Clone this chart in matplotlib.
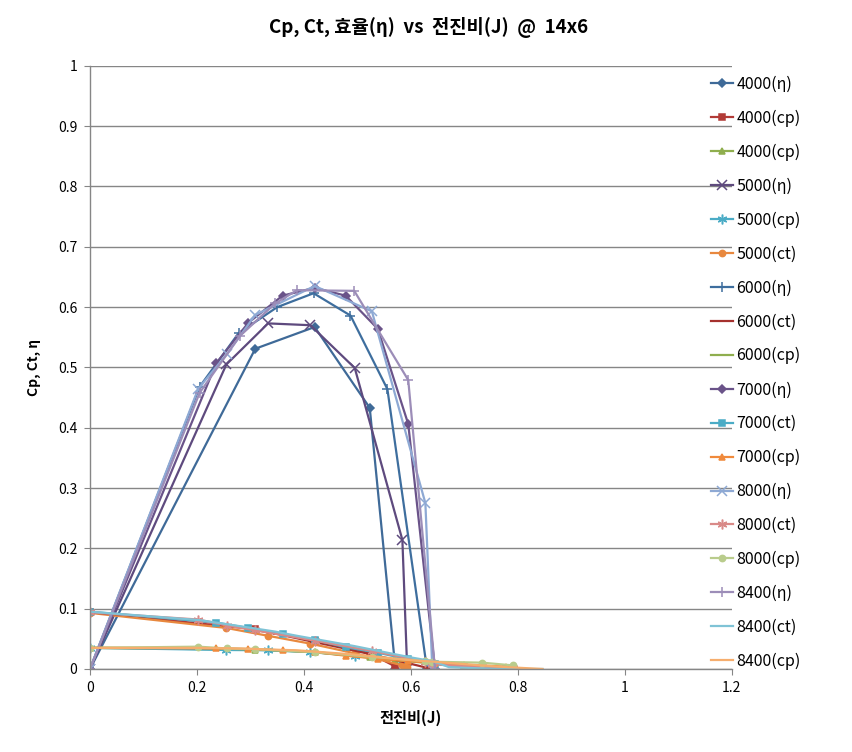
import matplotlib
matplotlib.use("Agg")
import matplotlib.pyplot as plt
from matplotlib.ticker import FuncFormatter, MultipleLocator

plt.rcParams["font.family"] = ["Noto Sans CJK KR", "DejaVu Sans"]

# 전진비 J 와 각 rpm 별 효율(η), ct, cp 값
j_4000 = [0, 0.309, 0.42, 0.523, 0.571]
eta_4000 = [0, 0.531, 0.567, 0.433, 0]
ct_4000 = [0.094, 0.066, 0.047, 0.026, 0.004]
cp_4000 = [0.035, 0.032, 0.028, 0.020, 0.015]

j_5000 = [0, 0.255, 0.333, 0.412, 0.495, 0.584, 0.593]
eta_5000 = [0, 0.505, 0.573, 0.570, 0.499, 0.214, 0]
ct_5000 = [0.093, 0.068, 0.055, 0.042, 0.026, 0.006, 0.003]
cp_5000 = [0.035, 0.0315, 0.031, 0.028, 0.022, 0.014, 0.013]

j_6000 = [0, 0.205, 0.278, 0.35, 0.418, 0.487, 0.556, 0.63]
eta_6000 = [0, 0.468, 0.557, 0.600, 0.623, 0.586, 0.464, 0]
ct_6000 = [0.094, 0.080, 0.070, 0.058, 0.045, 0.032, 0.018, 0.002]
cp_6000 = [0.035, 0.035, 0.033, 0.031, 0.028, 0.022, 0.016, 0.010]

j_7000 = [0, 0.236, 0.296, 0.36, 0.42, 0.478, 0.538, 0.595, 0.645]
eta_7000 = [0, 0.507, 0.574, 0.619, 0.632, 0.619, 0.564, 0.406, 0]
j_7000_low = [0, 0.236, 0.296, 0.36, 0.42, 0.478, 0.538, 0.595, 0.645, 0.70, 0.778]
ct_7000 = [0.095, 0.077, 0.068, 0.058, 0.048, 0.036, 0.027, 0.016, 0.008, 0.003, 0.0]
cp_7000 = [0.035, 0.034, 0.033, 0.031, 0.028, 0.022, 0.017, 0.013, 0.010, 0.007, 0.004]

j_8000 = [0, 0.2025, 0.256, 0.309, 0.42, 0.527, 0.627, 0.64]
eta_8000 = [0, 0.465, 0.522, 0.587, 0.635, 0.593, 0.275, 0]
j_8000_low = [0, 0.2025, 0.256, 0.309, 0.42, 0.527, 0.627, 0.64, 0.733, 0.79]
ct_8000 = [0.094, 0.082, 0.072, 0.064, 0.047, 0.030, 0.012, 0.008, 0.003, 0.001]
cp_8000 = [0.035, 0.037, 0.034, 0.033, 0.028, 0.020, 0.013, 0.012, 0.0105, 0.006]

j_8400 = [0, 0.205, 0.28, 0.346, 0.387, 0.494, 0.595, 0.645]
eta_8400 = [0, 0.458, 0.552, 0.606, 0.628, 0.627, 0.479, 0]
j_8400_low = [0, 0, 0.205, 0.28, 0.346, 0.387, 0.494, 0.595, 0.645, 0.671, 0.73, 0.78, 0.846]
ct_8400 = [0, 0.095, 0.081, 0.071, 0.062, 0.055, 0.038, 0.020, 0.012, 0.003, 0.001, 0.0, 0.0]
cp_8400 = [0, 0.035, 0.035, 0.034, 0.032, 0.031, 0.024, 0.015, 0.012, 0.010, 0.006, 0.003, 0.0]

# (범례 이름, x, y, 색, 마커) - 범례 이름은 원본 그대로
series = [
    ("4000(η)", j_4000, eta_4000, "#3F6A98", "D"),
    ("4000(cp)", j_4000, ct_4000, "#B23B37", "s"),
    ("4000(cp)", j_4000, cp_4000, "#8FAE4E", "^"),
    ("5000(η)", j_5000, eta_5000, "#5E4A7E", "x"),
    ("5000(cp)", j_5000, cp_5000, "#4BACC6", (6, 2, 0)),
    ("5000(ct)", j_5000, ct_5000, "#E8883E", "o"),
    ("6000(η)", j_6000, eta_6000, "#3E6E9E", "+"),
    ("6000(ct)", j_6000, ct_6000, "#A5312E", "_"),
    ("6000(cp)", j_6000, cp_6000, "#8FAE4E", "_"),
    ("7000(η)", j_7000, eta_7000, "#6A5389", "D"),
    ("7000(ct)", j_7000_low, ct_7000, "#4BACC6", "s"),
    ("7000(cp)", j_7000_low, cp_7000, "#F08A3C", "^"),
    ("8000(η)", j_8000, eta_8000, "#8EA9D4", "x"),
    ("8000(ct)", j_8000_low, ct_8000, "#D98A88", (6, 2, 0)),
    ("8000(cp)", j_8000_low, cp_8000, "#B9CC8C", "o"),
    ("8400(η)", j_8400, eta_8400, "#9C8DB8", "+"),
    ("8400(ct)", j_8400_low, ct_8400, "#7FC3D6", None),
    ("8400(cp)", j_8400_low, cp_8400, "#F6AE6E", None),
]

fig = plt.figure(figsize=(8.53, 7.52), dpi=100)
ax = fig.add_axes([0.1055, 0.1104, 0.7525, 0.802])

for label, xs, ys, color, marker in series:
    size = 4.5
    if marker in ("x", "+", (6, 2, 0)):
        size = 7
    if marker == "_":
        size = 6
    ax.plot(xs, ys, color=color, lw=1.6, marker=marker, markersize=size,
            markeredgewidth=1.1, label=label)

ax.set_xlim(0, 1.2)
ax.set_ylim(0, 1)
ax.xaxis.set_major_locator(MultipleLocator(0.2))
ax.yaxis.set_major_locator(MultipleLocator(0.1))
fmt = FuncFormatter(lambda v, pos: f"{v:g}")
ax.xaxis.set_major_formatter(fmt)
ax.yaxis.set_major_formatter(fmt)
ax.tick_params(direction="out", length=4, color="#868686", labelsize=10, pad=5)

ax.grid(axis="y", color="#868686", lw=1)
ax.set_axisbelow(True)
for side in ("top", "right"):
    ax.spines[side].set_visible(False)
for side in ("left", "bottom"):
    ax.spines[side].set_color("#868686")
    ax.spines[side].set_linewidth(1)

ax.set_xlabel("전진비(J)", fontsize=11, fontweight="bold", labelpad=10)
ax.set_ylabel("Cp, Ct, η", fontsize=10, fontweight="bold", labelpad=12)
fig.text(0.503, 0.964, "Cp, Ct, 효율(η)  vs  전진비(J)  @  14x6",
         ha="center", va="center", fontsize=13.5, fontweight="bold")

fig.legend(loc="upper left", bbox_to_anchor=(0.826, 0.9077), frameon=False,
           fontsize=11.5, labelspacing=1.055, handlelength=1.4, handletextpad=0.2,
           borderaxespad=0)

fig.savefig("out.png", dpi=100)
